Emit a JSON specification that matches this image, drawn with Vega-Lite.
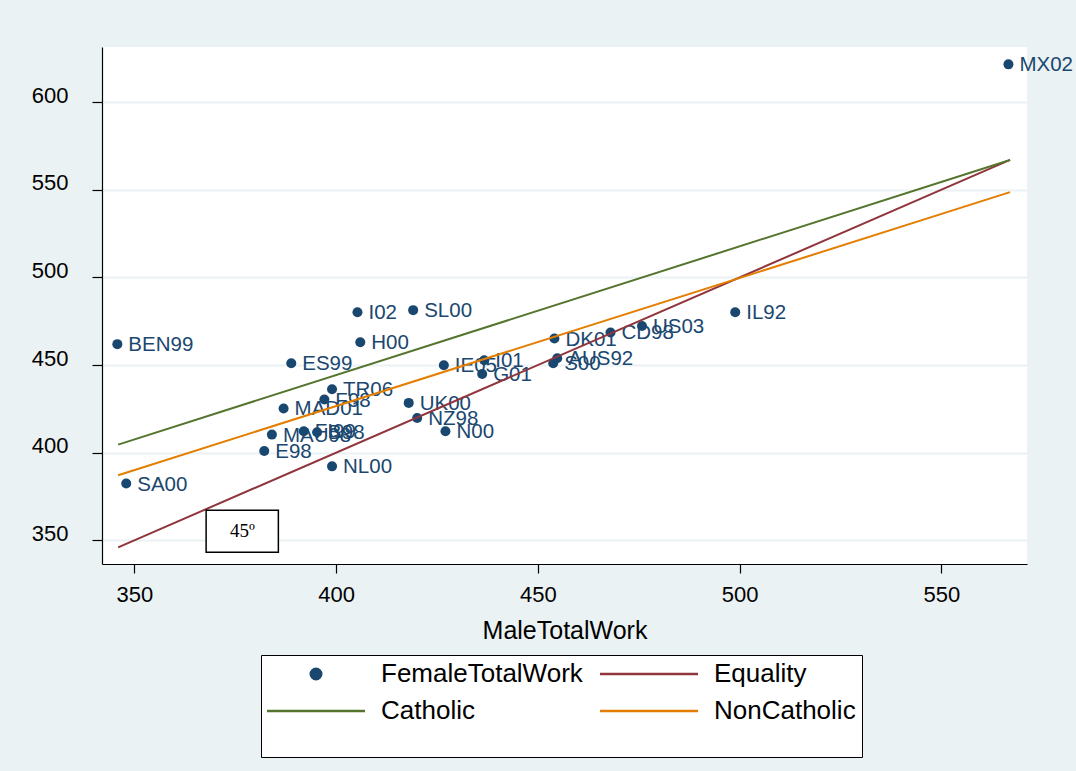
{
  "$schema": "https://vega.github.io/schema/vega-lite/v6.json",
  "width": 925,
  "height": 517,
  "autosize": {"type": "none"},
  "padding": {"left": 102, "top": 47, "right": 49, "bottom": 207},
  "background": "#EAF2F3",
  "config": {
    "font": "Liberation Sans",
    "view": {"fill": "white", "stroke": null},
    "axis": {
      "domainColor": "black", "domainWidth": 1.2, "tickColor": "black", "tickWidth": 1.2,
      "labelColor": "black", "labelFontSize": 22, "labelFont": "Liberation Sans",
      "titleColor": "black", "titleFontSize": 25, "titleFont": "Liberation Sans", "titleFontWeight": "normal"
    },
    "legend": {
      "orient": "none", "legendX": 159, "legendY": 608, "columns": 2, "direction": "horizontal",
      "gridAlign": "all", "columnPadding": 12, "rowPadding": 11, "padding": 6,
      "fillColor": "white", "strokeColor": "black",
      "symbolType": "stroke", "symbolSize": 100, "symbolStrokeWidth": 2.5,
      "labelFontSize": 26, "labelColor": "black", "labelFont": "Liberation Sans", "labelOffset": 88, "labelLimit": 400,
      "titleOrient": "bottom", "titleFontSize": 26, "titlePadding": 1
    }
  },
  "datasets": {
    "pts": [
      {"MaleTotalWork": 566.6, "FemaleTotalWork": 621.5, "country": "MX02"},
      {"MaleTotalWork": 345.8, "FemaleTotalWork": 461.9, "country": "BEN99"},
      {"MaleTotalWork": 348.0, "FemaleTotalWork": 382.4, "country": "SA00"},
      {"MaleTotalWork": 382.2, "FemaleTotalWork": 401.0, "country": "E98"},
      {"MaleTotalWork": 384.1, "FemaleTotalWork": 410.3, "country": "MAU98"},
      {"MaleTotalWork": 387.0, "FemaleTotalWork": 425.2, "country": "MAD01"},
      {"MaleTotalWork": 397.1, "FemaleTotalWork": 430.3, "country": "F98"},
      {"MaleTotalWork": 399.0, "FemaleTotalWork": 436.2, "country": "TR06"},
      {"MaleTotalWork": 392.0, "FemaleTotalWork": 412.2, "country": "FI99"},
      {"MaleTotalWork": 395.3, "FemaleTotalWork": 411.6, "country": "B98"},
      {"MaleTotalWork": 399.0, "FemaleTotalWork": 392.2, "country": "NL00"},
      {"MaleTotalWork": 418.0, "FemaleTotalWork": 428.4, "country": "UK00"},
      {"MaleTotalWork": 420.1, "FemaleTotalWork": 419.8, "country": "NZ98"},
      {"MaleTotalWork": 427.1, "FemaleTotalWork": 412.2, "country": "N00"},
      {"MaleTotalWork": 388.9, "FemaleTotalWork": 451.0, "country": "ES99"},
      {"MaleTotalWork": 405.3, "FemaleTotalWork": 480.1, "country": "I02"},
      {"MaleTotalWork": 406.0, "FemaleTotalWork": 463.0, "country": "H00"},
      {"MaleTotalWork": 419.1, "FemaleTotalWork": 481.3, "country": "SL00"},
      {"MaleTotalWork": 426.7, "FemaleTotalWork": 449.9, "country": "IE05"},
      {"MaleTotalWork": 436.7, "FemaleTotalWork": 452.7, "country": "I01"},
      {"MaleTotalWork": 436.2, "FemaleTotalWork": 444.9, "country": "G01"},
      {"MaleTotalWork": 454.1, "FemaleTotalWork": 465.1, "country": "DK01"},
      {"MaleTotalWork": 454.8, "FemaleTotalWork": 453.9, "country": "AUS92"},
      {"MaleTotalWork": 453.8, "FemaleTotalWork": 451.0, "country": "S00"},
      {"MaleTotalWork": 468.0, "FemaleTotalWork": 468.6, "country": "CD98"},
      {"MaleTotalWork": 475.8, "FemaleTotalWork": 472.3, "country": "US03"},
      {"MaleTotalWork": 498.9, "FemaleTotalWork": 480.1, "country": "IL92"}
    ],
    "lines": [
      {"series": "Equality", "x": 346.0, "y": 346.0},
      {"series": "Equality", "x": 567.0, "y": 567.0},
      {"series": "Catholic", "x": 346.0, "y": 404.6},
      {"series": "Catholic", "x": 567.0, "y": 566.9},
      {"series": "NonCatholic", "x": 346.0, "y": 387.1},
      {"series": "NonCatholic", "x": 567.0, "y": 548.6}
    ],
    "box": [
      {"x1": 367.8, "x2": 385.7, "y1": 343.2, "y2": 367.1, "xm": 376.8, "ym": 355.1, "label": "45º"}
    ]
  },
  "layer": [
    {
      "data": {"name": "pts"},
      "mark": {"type": "point", "filled": true, "size": 100, "opacity": 1},
      "encoding": {
        "x": {"field": "MaleTotalWork", "type": "quantitative",
              "scale": {"domain": [342, 571.2], "nice": false, "zero": false},
              "axis": {"values": [350, 400, 450, 500, 550], "grid": false, "tickSize": 9, "labelPadding": 11, "title": "MaleTotalWork", "titlePadding": 13}},
        "y": {"field": "FemaleTotalWork", "type": "quantitative",
              "scale": {"domain": [336.5, 631.4], "nice": false, "zero": false},
              "axis": {"values": [350, 400, 450, 500, 550, 600], "grid": true, "gridColor": "#EAF2F3", "gridWidth": 2, "tickSize": 10, "labelPadding": 24, "labelBaseline": "alphabetic", "title": null}},
        "color": {"datum": "FemaleTotalWork", "type": "nominal",
                  "scale": {"domain": ["FemaleTotalWork", "Equality", "Catholic", "NonCatholic"], "range": ["#1A476F", "#90353B", "#55752F", "#E37E00"]},
                  "legend": {
                    "title": " ",
                    "encode": {"symbols": {"update": {
                      "shape": {"signal": "datum.value === 'FemaleTotalWork' ? 'circle' : 'M-9.8,0H9.8'"},
                      "size": {"signal": "datum.value === 'FemaleTotalWork' ? 110 : 100"},
                      "x": {"value": 49},
                      "stroke": {"scale": "color", "field": "value"},
                      "fill": {"scale": "color", "field": "value"},
                      "strokeWidth": {"value": 2.5},
                      "opacity": {"value": 1}
                    }}}
                  }}
      }
    },
    {
      "data": {"name": "pts"},
      "mark": {"type": "text", "align": "left", "baseline": "middle", "dx": 11, "dy": 1, "fontSize": 20.5, "color": "#1A476F", "font": "Liberation Sans"},
      "encoding": {
        "x": {"field": "MaleTotalWork", "type": "quantitative"},
        "y": {"field": "FemaleTotalWork", "type": "quantitative"},
        "text": {"field": "country"}
      }
    },
    {
      "data": {"name": "lines"},
      "mark": {"type": "line", "strokeWidth": 2},
      "encoding": {
        "x": {"field": "x", "type": "quantitative"},
        "y": {"field": "y", "type": "quantitative"},
        "color": {"field": "series", "type": "nominal",
                  "legend": {
                    "title": " ",
                    "encode": {"symbols": {"update": {
                      "shape": {"signal": "datum.value === 'FemaleTotalWork' ? 'circle' : 'M-9.8,0H9.8'"},
                      "size": {"signal": "datum.value === 'FemaleTotalWork' ? 110 : 100"},
                      "x": {"value": 49},
                      "stroke": {"scale": "color", "field": "value"},
                      "fill": {"scale": "color", "field": "value"},
                      "strokeWidth": {"value": 2.5},
                      "opacity": {"value": 1}
                    }}}
                  }}
      }
    },
    {
      "data": {"name": "box"},
      "mark": {"type": "rect", "fill": "white", "stroke": "black", "strokeWidth": 1.5},
      "encoding": {
        "x": {"field": "x1", "type": "quantitative"},
        "x2": {"field": "x2"},
        "y": {"field": "y1", "type": "quantitative"},
        "y2": {"field": "y2"}
      }
    },
    {
      "data": {"name": "box"},
      "mark": {"type": "text", "font": "Liberation Serif", "fontSize": 19, "color": "black", "align": "center", "baseline": "middle"},
      "encoding": {
        "x": {"field": "xm", "type": "quantitative"},
        "y": {"field": "ym", "type": "quantitative"},
        "text": {"field": "label"}
      }
    }
  ]
}
